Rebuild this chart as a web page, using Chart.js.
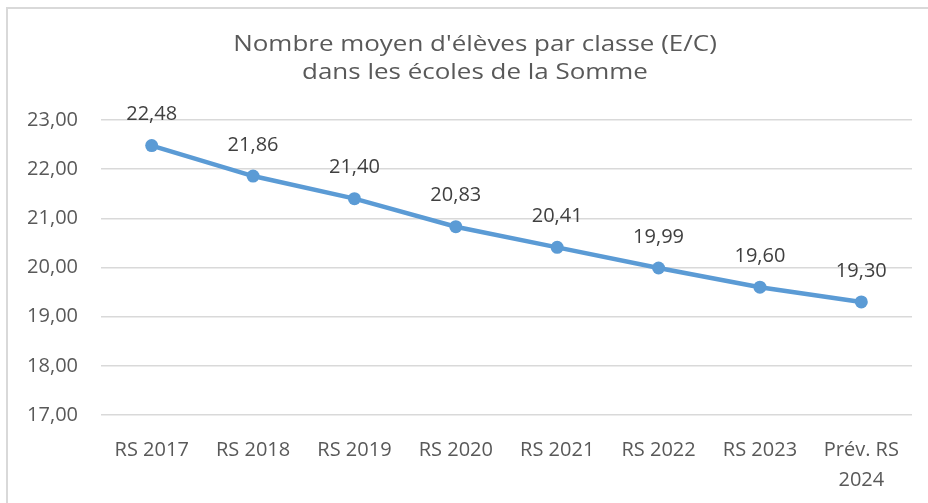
<!DOCTYPE html>
<html>
<head>
<meta charset="utf-8">
<script src="https://cdn.jsdelivr.net/npm/chart.js@4.4.1/dist/chart.umd.min.js"></script>
<style>
  html, body { margin: 0; padding: 0; background: #fff; overflow: hidden; }
  #frame { position: absolute; left: 6px; top: 7px; width: 940px; height: 520px; border: 2px solid #d9d9d9; }
  #wrap { position: absolute; left: 0; top: 0; }
</style>
</head>
<body>
<div id="frame"></div>
<div id="wrap"><canvas id="myChart" width="950" height="503"></canvas></div>
<script>
let labels = ["RS 2017", "RS 2018", "RS 2019", "RS 2020", "RS 2021", "RS 2022", "RS 2023", ["Prév. RS", "2024"]];
let moyenne = [22.48, 21.86, 21.40, 20.83, 20.41, 19.99, 19.60, 19.30];
let titleLines = ["Nombre moyen d'élèves par classe (E/C)", "dans les écoles de la Somme"];
let yMin = 17;
let yMax = 23;

let tickFont = { family: "'Open Sans', sans-serif", size: 20, lineHeight: 1.5 };

function fr(v) {
  return Number(v).toFixed(2).replace(".", ",");
}

// titre dessiné à la main (un peu étiré comme l'original)
let bigTitle = {
  id: "bigTitle",
  afterDraw(chart) {
    let ctx = chart.ctx;
    ctx.save();
    ctx.font = "22px 'Open Sans', sans-serif";
    ctx.fillStyle = "#595959";
    ctx.textAlign = "center";
    ctx.textBaseline = "middle";
    ctx.translate(475, 0);
    ctx.scale(1.18, 1);
    ctx.fillText(titleLines[0], 0, 45);
    ctx.fillText(titleLines[1], 0, 73);
    ctx.restore();
  },
};

// valeurs au-dessus des points
let valueLabels = {
  id: "valueLabels",
  afterDatasetsDraw(chart) {
    let ctx = chart.ctx;
    let meta = chart.getDatasetMeta(0);
    ctx.save();
    ctx.font = "20px 'Open Sans', sans-serif";
    ctx.fillStyle = "#404040";
    ctx.textAlign = "center";
    ctx.textBaseline = "middle";
    meta.data.forEach((pt, i) => {
      ctx.fillText(fr(moyenne[i]), pt.x, pt.y - 31);
    });
    ctx.restore();
  },
};

let myChart = document.getElementById("myChart").getContext("2d");

let moyChart = new Chart(myChart, {
  type: "line",
  data: {
    labels: labels,
    datasets: [
      {
        label: "E/C",
        data: moyenne,
        borderColor: "#5b9bd5",
        backgroundColor: "#5b9bd5",
        borderWidth: 4.5,
        pointRadius: 6.5,
        pointHoverRadius: 6.5,
        pointBorderWidth: 0,
        tension: 0,
        clip: false,
      },
    ],
  },
  options: {
    responsive: false,
    animation: false,
    layout: { padding: { left: 0, right: 38, top: 120, bottom: 0 } },
    plugins: {
      legend: { display: false },
      tooltip: { enabled: false },
      title: { display: false },
    },
    scales: {
      x: {
        offset: true,
        grid: { display: false },
        border: { display: false },
        ticks: { color: "#595959", font: tickFont, padding: 12, maxRotation: 0, autoSkip: false },
        afterFit(scale) {
          scale.height = 88;
        },
      },
      y: {
        min: yMin,
        max: yMax,
        border: { display: false },
        grid: { color: "#d9d9d9", lineWidth: 1.5, drawTicks: false },
        ticks: { stepSize: 1, color: "#595959", font: tickFont, padding: 23, callback: (v) => fr(v) },
        afterFit(scale) {
          scale.width = 101;
        },
      },
    },
  },
  plugins: [valueLabels, bigTitle],
});
</script>
</body>
</html>
